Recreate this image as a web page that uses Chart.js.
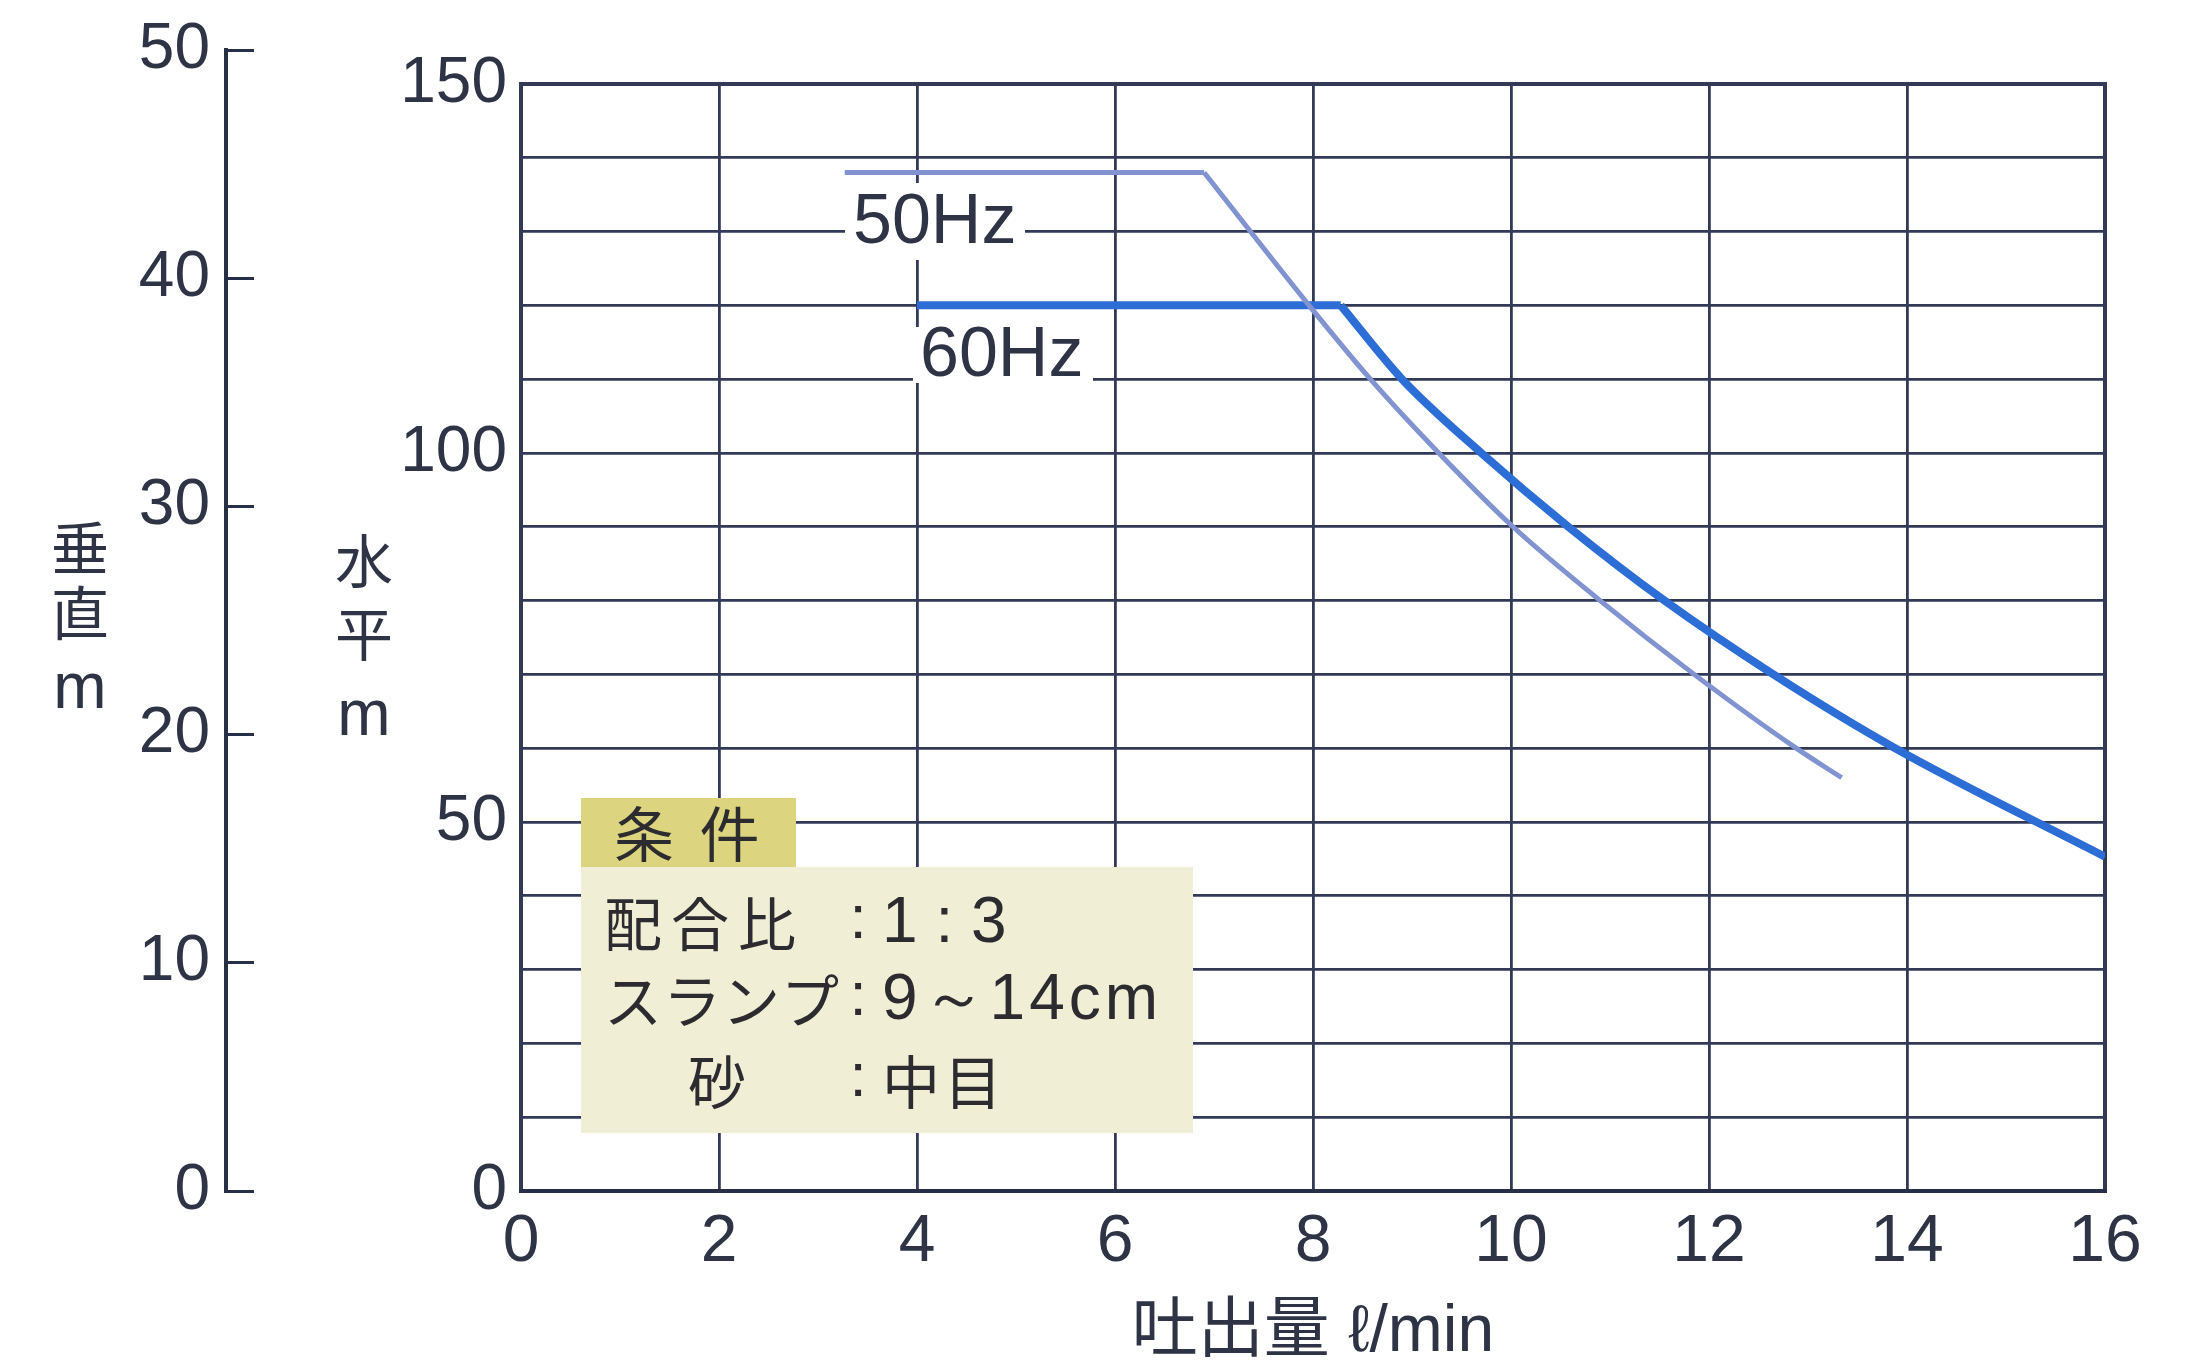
<!DOCTYPE html>
<html><head><meta charset="utf-8">
<script src="https://cdn.jsdelivr.net/npm/chart.js@4.4.1/dist/chart.umd.min.js"></script>
<style>html,body{margin:0;padding:0;background:#fff;}canvas{display:block}</style>
</head><body>
<canvas id="c" width="2195" height="1372"></canvas>
<script>
// ---- data ----
const flow50 = [3.27, 6.9, 7.96, 8.58, 9.27, 10.02, 10.9, 11.85, 12.88, 13.34];
const head50 = [138, 138, 120, 110, 100, 90, 80, 70, 60, 56];
const flow60 = [4.0, 8.28, 8.9, 9.7, 10.58, 11.55, 12.65, 13.88, 16.0];
const head60 = [120, 120, 110, 100, 90, 80, 70, 60, 45.3];
const xTickLabels = [0, 2, 4, 6, 8, 10, 12, 14, 16];
const hTickLabels = [0, 50, 100, 150];
const vTickLabels = [0, 10, 20, 30, 40, 50];
const seriesNames = ['50Hz', '60Hz'];
const xTitle = '吐出量 ℓ/min';
const yTitleH = ['水', '平', 'm'];
const yTitleV = ['垂', '直', 'm'];
const condTitle = '条 件';
const condRows = [['配合比', '1 : 3'], ['スランプ', '9～14cm'], ['砂', '中目']];

// ---- styling ----
const INK = '#2e3345';
const GRID = '#323a58';
const NUMFONT = "'Liberation Sans Narrow', 'Liberation Sans', Arial, sans-serif";
const SANS = "'Liberation Sans', Arial, sans-serif";
const CJK = "'Noto Sans CJK JP', 'Noto Sans CJK SC', sans-serif";

const pts = (xs, ys) => xs.map((v, i) => ({x: v, y: ys[i]}));
const p50 = pts(flow50, head50);
const p60 = pts(flow60, head60);

const deco = {
  id: 'deco',
  beforeDatasetsDraw(chart) {
    const {ctx, chartArea: a, scales: {x, y}} = chart;
    ctx.save();
    ctx.fillStyle = '#fff';
    const t150 = y.getPixelForValue(150);
    if (t150 - 2 > 0) ctx.fillRect(a.left - 8, 0, a.right - a.left + 16, t150 - 2);
    // white patches behind the series labels
    ctx.fillRect(845, 183, 180, 77);
    ctx.fillRect(913, 327, 180, 56);
    ctx.fillStyle = INK;
    ctx.font = '70px ' + SANS;
    ctx.textBaseline = 'middle';
    ctx.textAlign = 'left';
    ctx.fillText(seriesNames[0], 853, 224);
    ctx.fillText(seriesNames[1], 920, 357);
    ctx.restore();
  },
  afterDatasetsDraw(chart) {
    const {ctx} = chart;
    ctx.save();
    // condition box
    ctx.fillStyle = '#dcd47e';
    ctx.fillRect(581, 798, 215, 72);
    ctx.fillStyle = '#f0efd6';
    ctx.fillRect(581, 867, 612, 266);
    ctx.fillStyle = '#2c2c30';
    ctx.textBaseline = 'middle';
    ctx.textAlign = 'left';
    ctx.font = '60px ' + CJK;
    ctx.letterSpacing = '6px';
    ctx.fillText(condTitle, 614, 834);
    const rowsY = [924, 1001, 1082];
    const leftX = [604, 604, 688];
    const spacing = ['9px', '1px', '0px'];
    condRows.forEach((r, i) => {
      ctx.font = '58px ' + CJK;
      ctx.letterSpacing = spacing[i];
      ctx.fillText(r[0], leftX[i], rowsY[i]);
      ctx.letterSpacing = '0px';
      ctx.font = '62px ' + SANS;
      ctx.textAlign = 'center';
      ctx.fillText(':', 858, rowsY[i] - 3);
      ctx.textAlign = 'left';
      if (i === 2) {
        ctx.font = '58px ' + CJK;
        ctx.letterSpacing = '4px';
      } else if (i === 1) {
        ctx.font = '64px ' + SANS;
        ctx.letterSpacing = '4px';
      } else {
        ctx.font = '64px ' + SANS;
      }
      ctx.fillText(r[1], 882, rowsY[i]);
      ctx.letterSpacing = '0px';
    });
    ctx.restore();
  },
  afterDraw(chart) {
    const {ctx} = chart;
    ctx.save();
    ctx.fillStyle = INK;
    ctx.textAlign = 'center';
    ctx.textBaseline = 'middle';
    const ys1 = [548, 613, 690];
    yTitleV.forEach((ch, i) => {
      ctx.font = (ch === 'm' ? '64px ' + SANS : '58px ' + CJK);
      ctx.fillText(ch, 80, ys1[i]);
    });
    const ys2 = [561, 634, 717];
    yTitleH.forEach((ch, i) => {
      ctx.font = (ch === 'm' ? '64px ' + SANS : '58px ' + CJK);
      ctx.fillText(ch, 364, ys2[i]);
    });
    ctx.restore();
  }
};

const edgeW = (v, lo, hi) => (v === lo || v === hi) ? 4 : 2.8;

new Chart(document.getElementById('c'), {
  type: 'line',
  data: {
    datasets: [
      {label: seriesNames[0] + ' flat', data: p50.slice(0, 2), borderColor: '#8193d0', borderWidth: 5, pointRadius: 0, tension: 0},
      {label: seriesNames[0], data: p50.slice(1), borderColor: '#8193d0', borderWidth: 5, pointRadius: 0, cubicInterpolationMode: 'monotone'},
      {label: seriesNames[1] + ' flat', data: p60.slice(0, 2), borderColor: '#2d6ed6', borderWidth: 8, pointRadius: 0, tension: 0},
      {label: seriesNames[1], data: p60.slice(1), borderColor: '#2d6ed6', borderWidth: 8, pointRadius: 0, cubicInterpolationMode: 'monotone'}
    ]
  },
  options: {
    responsive: false,
    animation: false,
    devicePixelRatio: 1,
    layout: {padding: {left: 0, right: 90, top: 50, bottom: 0}},
    plugins: {legend: {display: false}, tooltip: {enabled: false}},
    scales: {
      x: {
        type: 'linear', min: 0, max: 16,
        ticks: {stepSize: 2, autoSkip: false, maxRotation: 0, color: INK, font: {family: NUMFONT, size: 66}, padding: 12,
          callback: v => xTickLabels.includes(v) ? String(v) : ''},
        grid: {drawTicks: false, color: GRID, lineWidth: c => edgeW(c.tick.value, 0, 16)},
        border: {display: true, color: '#283048', width: 4},
        title: {display: true, text: xTitle, color: INK, font: {family: SANS + ", " + CJK, size: 66}, padding: {top: 16, bottom: 0}},
        afterFit: s => { s.height = 181; s.paddingLeft = 0; s.paddingRight = 0; }
      },
      y: {
        type: 'linear', position: 'left', weight: 0, min: 0, max: 154.6,
        ticks: {stepSize: 10, autoSkip: false, includeBounds: false, color: INK, font: {family: NUMFONT, size: 64}, padding: 14,
          callback: v => hTickLabels.includes(v) ? String(v) : ''},
        grid: {drawTicks: false, color: GRID, lineWidth: c => edgeW(c.tick.value, 0, 150)},
        border: {display: false},
        afterFit: s => { s.width = 295; s.paddingTop = 0; s.paddingBottom = 0; }
      },
      y2: {
        type: 'linear', position: 'left', weight: 10, min: 0, max: 50,
        ticks: {stepSize: 10, autoSkip: false, color: INK, font: {family: NUMFONT, size: 64}, padding: 44,
          callback: v => vTickLabels.includes(v) ? String(v) : ''},
        grid: {drawOnChartArea: false, drawTicks: true, tickLength: -28, color: '#283048', lineWidth: 3},
        border: {display: true, color: '#283048', width: 4},
        afterFit: s => { s.width = 226; s.paddingTop = 0; s.paddingBottom = 0; }
      }
    }
  },
  plugins: [deco]
});
</script>
</body></html>
